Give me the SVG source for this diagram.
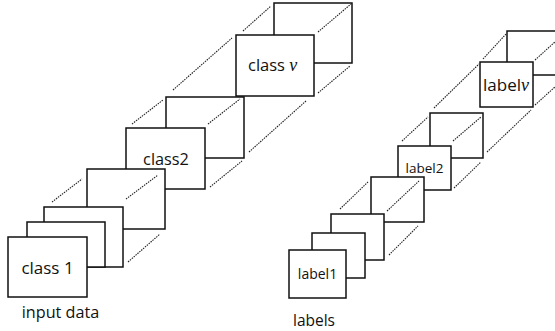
<svg xmlns="http://www.w3.org/2000/svg" width="555" height="331" viewBox="0 0 555 331">
<style>
.f{fill:#fff;stroke:#111;stroke-width:1.5}
.d{fill:none;stroke:#222;stroke-width:1.1;stroke-dasharray:1.5 1}
.t{font-family:"Open Sans","Liberation Sans",sans-serif;fill:#111}
.v{font-family:"Liberation Serif",serif;font-style:italic}
</style>
<rect width="555" height="331" fill="#fff"/>
<!-- left stack, back to front -->
<g id="L-h"><rect class="f" x="274" y="3" width="78" height="60"/></g>
<g id="conn-L-gh"><line class="d" x1="243" y1="31" x2="271" y2="6"/><line class="d" x1="318" y1="32" x2="351" y2="4"/><line class="d" x1="318" y1="93" x2="350" y2="66"/></g>
<g id="L-g"><rect class="f" x="236" y="35" width="78" height="61"/><text class="t" x="248" y="71" font-size="16.5">class <tspan class="v" font-size="18">ν</tspan></text></g>
<g id="conn-L-fg"><line class="d" x1="173" y1="90" x2="232" y2="38"/><line class="d" x1="249" y1="152" x2="306" y2="101"/></g>
<g id="L-f"><rect class="f" x="166" y="97" width="78" height="61"/></g>
<g id="conn-L-ef"><line class="d" x1="132" y1="124" x2="163" y2="100"/><line class="d" x1="208" y1="124" x2="240" y2="99"/><line class="d" x1="210" y1="187" x2="242" y2="161"/></g>
<g id="L-e"><rect class="f" x="126" y="128" width="79" height="61"/><text class="t" x="166" y="165" font-size="16.3" text-anchor="middle">class2</text></g>
<g id="L-d"><rect class="f" x="87" y="169" width="78" height="60"/></g>
<g id="conn-L-cd"><line class="d" x1="52" y1="202" x2="82" y2="179"/><line class="d" x1="126" y1="199" x2="158" y2="175"/><line class="d" x1="128" y1="262" x2="160" y2="234"/></g>
<g id="L-c"><rect class="f" x="44" y="207" width="79" height="60"/></g>
<g id="L-b"><rect class="f" x="27" y="222" width="78" height="45"/></g>
<g id="L-a"><rect class="f" x="8" y="237" width="79" height="60"/><text class="t" x="47.5" y="274" font-size="17" text-anchor="middle">class 1</text></g>
<text id="cap-input" class="t" x="60.5" y="318" font-size="16.2" text-anchor="middle">input data</text>
<!-- right stack, back to front -->
<g id="R-h"><rect class="f" x="507" y="31" width="60" height="44"/></g>
<g id="conn-R-gh"><line class="d" x1="483" y1="59" x2="506" y2="34"/><line class="d" x1="535" y1="60" x2="556" y2="41"/><line class="d" x1="535" y1="105" x2="556" y2="86"/></g>
<g id="R-g"><rect class="f" x="480" y="62" width="53" height="45"/><text class="t" x="483" y="91" font-size="17">label<tspan class="v" font-size="18">ν</tspan></text></g>
<g id="conn-R-fg"><line class="d" x1="434" y1="108" x2="479" y2="64"/><line class="d" x1="487" y1="152" x2="531" y2="110"/></g>
<g id="R-f"><rect class="f" x="430" y="113" width="53" height="45"/></g>
<g id="conn-R-ef"><line class="d" x1="402" y1="141" x2="428" y2="117"/><line class="d" x1="453" y1="141" x2="481" y2="117"/><line class="d" x1="454" y1="188" x2="481" y2="162"/></g>
<g id="R-e"><rect class="f" x="398" y="146" width="53" height="44"/><text class="t" x="424.5" y="173" font-size="13.5" text-anchor="middle">label2</text></g>
<g id="R-d"><rect class="f" x="371" y="177" width="53" height="45"/></g>
<g id="conn-R-cd"><line class="d" x1="340" y1="209" x2="368" y2="182"/><line class="d" x1="387" y1="211" x2="419" y2="181"/><line class="d" x1="389" y1="255" x2="418" y2="226"/></g>
<g id="R-c"><rect class="f" x="331" y="214" width="53" height="46"/></g>
<g id="R-b"><rect class="f" x="312" y="233" width="53" height="45"/></g>
<g id="R-a"><rect class="f" x="289" y="250" width="57" height="48"/><text class="t" x="317.5" y="279" font-size="14" text-anchor="middle">label1</text></g>
<text id="cap-labels" class="t" x="314" y="326" font-size="15.5" text-anchor="middle">labels</text>
</svg>
